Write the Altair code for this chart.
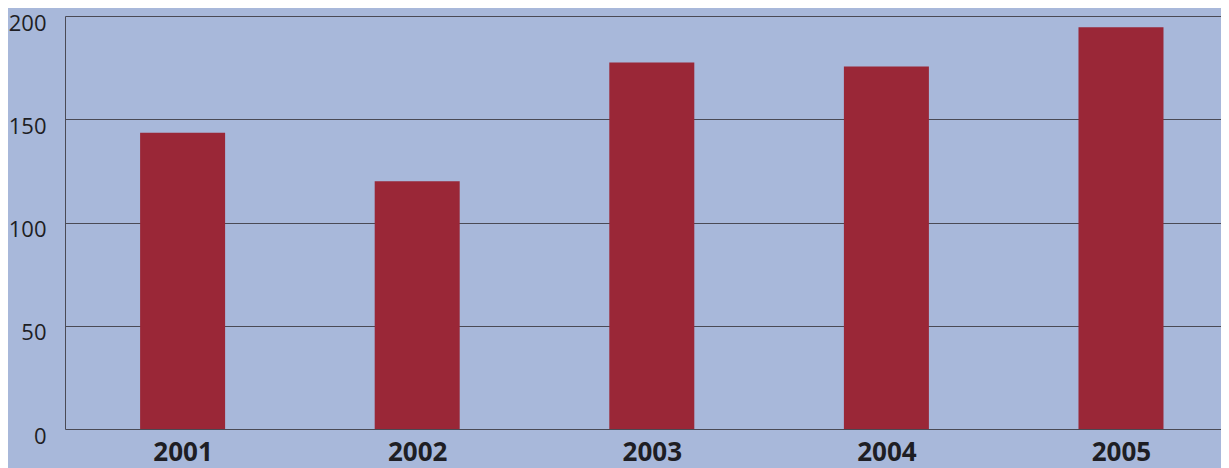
import altair as alt
import pandas as pd

years = [2001, 2002, 2003, 2004, 2005]
values = [143.5, 120, 177.5, 175.5, 194.5]
y_ticks = [0, 50, 100, 150, 200]

df = pd.DataFrame({"year": years, "value": values})

chart = alt.Chart(df).mark_bar(color="#9a2737", size=85).encode(
    x=alt.X("year:Q", title=None,
            scale=alt.Scale(domain=[2000.52, 2005.405], nice=False, zero=False),
            axis=alt.Axis(values=years, format="d", labelAngle=0, ticks=False,
                          domain=False, grid=False,
                          labelFont="Open Sans", labelFontWeight="bold",
                          labelFontSize=26, labelColor="#1e1e24",
                          labelPadding=10)),
    y=alt.Y("value:Q", title=None,
            scale=alt.Scale(domain=[0, 200], nice=False),
            axis=alt.Axis(values=y_ticks, ticks=False, domain=True,
                          domainColor="#4a4a55", domainWidth=1,
                          grid=True, gridColor="#4a4a55", gridWidth=1, gridOpacity=1,
                          labelFont="Open Sans", labelFontSize=22,
                          labelColor="#1e1e24", labelPadding=19,
                          labelOffset=7)),
).properties(
    width=1156,
    height=413,
    background="#a8b8da",
    padding={"left": 57, "top": 8, "right": 0, "bottom": 39},
    autosize=alt.AutoSizeParams(type="none"),
).configure_view(stroke=None)

chart.save("out.html", embed_options={"renderer": "svg", "actions": False})
